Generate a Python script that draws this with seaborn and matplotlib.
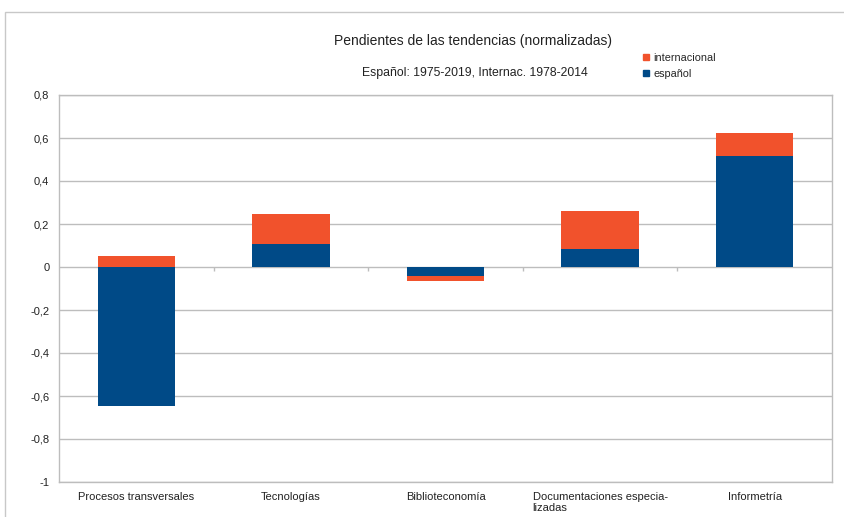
import matplotlib
matplotlib.use("Agg")
import matplotlib.pyplot as plt
import seaborn as sns
import pandas as pd
import numpy as np
from matplotlib.lines import Line2D
from matplotlib.patches import Rectangle

categorias = ["Procesos transversales", "Tecnologías", "Biblioteconomía",
              "Documentaciones especia-\nlizadas", "Informetría"]
espanol = [-0.647, 0.105, -0.043, 0.084, 0.518]
internacional = [0.053, 0.142, -0.022, 0.175, 0.105]
yticks = [-1, -0.8, -0.6, -0.4, -0.2, 0, 0.2, 0.4, 0.6, 0.8]
ytick_labels = ["-1", "-0,8", "-0,6", "-0,4", "-0,2", "0", "0,2", "0,4", "0,6", "0,8"]
titulo = "Pendientes de las tendencias (normalizadas)"
subtitulo = "Español: 1975-2019, Internac. 1978-2014"

c_esp = "#004a87"
c_int = "#f1522c"

sns.set_style("white")
plt.rcParams["font.family"] = ["Liberation Sans", "DejaVu Sans"]

# stacked top of internacional: positives on positives, negatives on negatives
esp = np.array(espanol)
intl = np.array(internacional)
base = np.where(intl >= 0, np.maximum(esp, 0), np.minimum(esp, 0))
tope = base + intl
df = pd.DataFrame({"cat": categorias, "esp": espanol, "tope": tope})

fig = plt.figure(figsize=(8.44, 5.17), dpi=100)
ax = fig.add_axes([59 / 844, 1 - 482 / 517, (832 - 59) / 844, (482 - 95) / 517])

sns.barplot(data=df, x="cat", y="tope", color=c_int, saturation=1, width=0.5, ax=ax,
            zorder=3, linewidth=0, edgecolor="none")
sns.barplot(data=df, x="cat", y="esp", color=c_esp, saturation=1, width=0.5, ax=ax,
            zorder=4, linewidth=0, edgecolor="none")

ax.set_xlim(-0.5, len(categorias) - 0.5)
ax.set_ylim(-1, 0.8)
ax.set_yticks(yticks)
ax.set_yticklabels(ytick_labels)
ax.set_xlabel("")
ax.set_ylabel("")

grid_c = "#bdbdbd"
ax.grid(axis="y", color=grid_c, lw=1, zorder=0)
ax.set_axisbelow(True)
for s in ["left", "right", "top", "bottom"]:
    ax.spines[s].set_color(grid_c)
    ax.spines[s].set_linewidth(1)

ax.tick_params(axis="y", length=4, color=grid_c, labelsize=8, pad=3, labelcolor="#222222")
ax.tick_params(axis="x", which="major", length=0, labelsize=8, pad=7, labelcolor="#222222")
ax.set_xticks(np.arange(-0.5, len(categorias), 1.0), minor=True)
ax.tick_params(axis="x", which="minor", length=4, color=grid_c, width=1)
for lbl in ax.get_xticklabels():
    lbl.set_multialignment("left")
    lbl.set_verticalalignment("top")

# category ticks on the zero line
ax.vlines(np.arange(0.5, len(categorias) - 1, 1.0), -0.018, 0, color=grid_c, lw=1, zorder=1)

fig.text(473 / 844, 1 - 41 / 517, titulo, ha="center", va="center", fontsize=10, color="#222222")
fig.text(475 / 844, 1 - 73 / 517, subtitulo, ha="center", va="center", fontsize=8.8, color="#222222")

handles = [Line2D([], [], marker="s", ls="", color=c_int, markersize=5),
           Line2D([], [], marker="s", ls="", color=c_esp, markersize=5)]
fig.legend(handles, ["internacional", "español"], loc="upper left",
           bbox_to_anchor=(643 / 844, 1 - 53 / 517), frameon=False, fontsize=7.8,
           handlelength=0.6, handletextpad=0.35, labelspacing=0.55, borderpad=0, borderaxespad=0)

fig.patches.append(Rectangle((5 / 844, -0.05), 1.2, 1 - 12 / 517 + 0.05, transform=fig.transFigure,
                             fill=False, edgecolor="#c8c8c8", lw=1))

fig.savefig("out.png", dpi=100)
